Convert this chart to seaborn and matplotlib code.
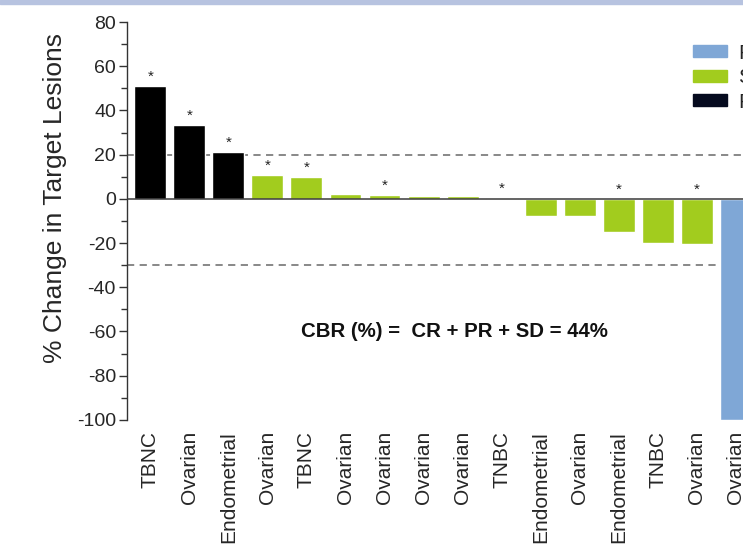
import matplotlib
matplotlib.use("Agg")
import matplotlib.pyplot as plt
import matplotlib.patches as mpatches
import seaborn as sns
import pandas as pd

# Per-patient best change in target lesions (waterfall order)
tumor_types = ["TBNC", "Ovarian", "Endometrial", "Ovarian", "TBNC", "Ovarian",
               "Ovarian", "Ovarian", "Ovarian", "TNBC", "Endometrial", "Ovarian",
               "Endometrial", "TNBC", "Ovarian", "Ovarian"]
pct_change = [51, 33.5, 21, 11, 10, 2, 1.6, 1.3, 1.3, 0.4, -7.8, -7.8, -15, -20, -20.5, -100]
response = ["PD", "PD", "PD", "SD", "SD", "SD", "SD", "SD", "SD", "SD",
            "SD", "SD", "SD", "SD", "SD", "PR"]
starred = [True, True, True, True, True, False, True, False, False, True,
           False, False, True, False, True, False]
response_order = ["PR", "SD", "PD"]
response_colors = {"PR": "#7fa7d6", "SD": "#a2cc1e", "PD": "#000000"}
legend_colors = {"PR": "#7fa7d6", "SD": "#a2cc1e", "PD": "#050a1e"}

df = pd.DataFrame({
    "patient": [str(i) for i in range(len(pct_change))],
    "change": pct_change,
    "response": response,
})

sns.set_style("white")
plt.rcParams["font.family"] = ["Liberation Sans", "DejaVu Sans"]
plt.rcParams["axes.unicode_minus"] = False

fig = plt.figure(figsize=(7.43, 5.51), dpi=100)
ax = fig.add_axes([0.171, 0.238, 0.924, 0.722])

sns.barplot(data=df, x="patient", y="change", hue="response",
            hue_order=response_order, palette=response_colors,
            dodge=False, width=0.82, ax=ax, legend=False, saturation=1)
for p in ax.patches:
    p.set_zorder(2)

ax.set_xlim(-0.6, 17.0)
ax.set_ylim(-100, 80)

# Reference thresholds (+20% progression, -30% partial response)
ax.axhline(20, color="#7f7f7f", lw=1.3, ls=(0, (4, 3)), zorder=0)
ax.axhline(-30, color="#7f7f7f", lw=1.3, ls=(0, (4, 3)), zorder=0)
ax.axhline(0, color="#3a3a3a", lw=1.1, zorder=3)

for i, (v, s) in enumerate(zip(pct_change, starred)):
    if s:
        y = max(v, 0) + 1.0
        ax.text(i, y, "*", ha="center", va="bottom", fontsize=11, color="#222222")

ax.text(7.8, -60, "CBR (%) =  CR + PR + SD = 44%", ha="center", va="center",
        fontsize=14.7, fontweight="bold", color="#111111")

ax.set_xticks(range(len(tumor_types)))
ax.set_xticklabels(tumor_types, rotation=90, fontsize=15)
ax.tick_params(axis="x", length=0, pad=8)
ax.set_xlabel("")

ax.set_yticks(range(-100, 81, 20))
ax.set_yticks(range(-90, 80, 20), minor=True)
ax.tick_params(axis="y", which="major", direction="out", length=6, width=1,
               color="#333333", labelsize=14, pad=2, left=True)
ax.tick_params(axis="y", which="minor", direction="out", length=4, width=1,
               color="#333333", left=True)
ax.set_ylabel("% Change in Target Lesions", fontsize=19)
ax.yaxis.set_label_coords(-0.088, 0.558)

for side in ["top", "right", "bottom"]:
    ax.spines[side].set_visible(False)
ax.spines["left"].set_color("#333333")
ax.spines["left"].set_linewidth(1)

handles = [mpatches.Patch(color=legend_colors[r], label=r) for r in response_order]
fig.legend(handles=handles, loc="upper left", bbox_to_anchor=(0.933, 0.921),
           frameon=False, fontsize=15, handlelength=1.6, handleheight=0.5,
           labelspacing=0.27, handletextpad=0.55, borderaxespad=0, borderpad=0)

# Thin banner strip along the top edge
fig.patches.append(mpatches.Rectangle((0, 0.992), 1, 0.008, transform=fig.transFigure,
                                      color="#b7c3e0", zorder=10))

fig.savefig("out.png", dpi=100)
